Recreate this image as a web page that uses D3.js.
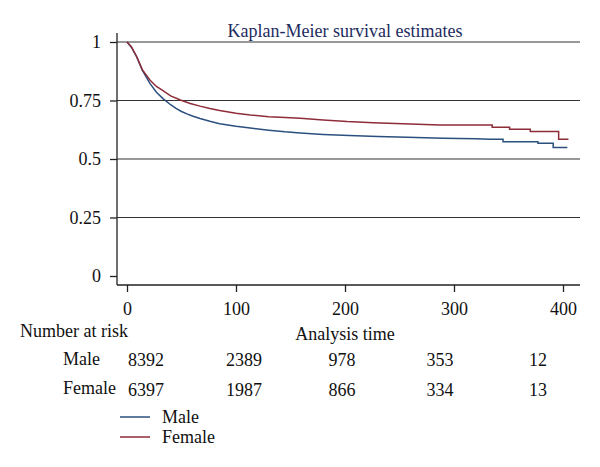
<!DOCTYPE html>
<html><head><meta charset="utf-8">
<script src="https://cdn.jsdelivr.net/npm/d3@7"></script>
<style>body{margin:0;background:#fff}svg{display:block}text{font-family:"Liberation Serif","DejaVu Serif",serif}</style>
</head><body>
<svg id="c" width="600" height="467"></svg>
<script>
const title = "Kaplan-Meier survival estimates";
const xTicks = [0, 100, 200, 300, 400];
const yTicks = [0, 0.25, 0.5, 0.75, 1];
const yTickLabels = ["0", "0.25", "0.5", "0.75", "1"];
const groups = ["Male", "Female"];
const colors = ["#2b4f7e", "#8e2c38"];
const maleTime = [0,4,9,14,21,27,33,40,45,50,55,60,67,76,85,100,113,130,145,159,180,204,230,257,290,320,333,345,345,377,377,391,391,404];
const maleSurv = [1,0.978,0.935,0.88,0.823,0.785,0.758,0.732,0.716,0.703,0.693,0.684,0.673,0.661,0.651,0.64,0.632,0.623,0.616,0.611,0.605,0.60,0.596,0.593,0.589,0.587,0.584,0.584,0.574,0.574,0.567,0.567,0.549,0.549];
const femaleTime = [0,4,9,14,21,27,33,40,49,58,67,76,85,100,113,130,145,159,180,202,226,260,287,335,335,351,351,370,370,396,396,405];
const femaleSurv = [1,0.98,0.937,0.882,0.838,0.81,0.792,0.77,0.752,0.737,0.726,0.716,0.707,0.696,0.688,0.681,0.677,0.674,0.667,0.66,0.655,0.65,0.645,0.645,0.636,0.636,0.627,0.627,0.617,0.617,0.584,0.584];
const riskLabel = "Number at risk";
const xTitle = "Analysis time";
const maleRisk = ["8392","2389","978","353","12"];
const femaleRisk = ["6397","1987","866","334","13"];

(function () {
const svg = d3.select("#c");
const x = d3.scaleLinear().domain([0, 400]).range([127, 563]);
const y = d3.scaleLinear().domain([0, 1]).range([276, 42]);
const pLeft = 117, pRight = 580, pBottom = 285, pTop = 33;
const ink = "#222";
const fs = 18;

svg.append("text").attr("x", 345).attr("y", 37).attr("text-anchor", "middle")
  .attr("font-size", fs).attr("fill", "#1d2c5e").text(title);

svg.append("g").selectAll("line").data(yTicks.filter(d => d > 0)).join("line")
  .attr("x1", pLeft).attr("x2", pRight).attr("y1", d => y(d)).attr("y2", d => y(d))
  .attr("stroke", "#333").attr("stroke-width", 1.2);

const ya = svg.append("g").attr("transform", `translate(${pLeft},0)`)
  .call(d3.axisLeft(y).tickValues(yTicks).tickFormat((d, i) => yTickLabels[i]).tickSize(7).tickPadding(9));
ya.select(".domain").remove();
ya.append("line").attr("x1", 0).attr("x2", 0).attr("y1", pTop).attr("y2", pBottom).attr("stroke", ink).attr("stroke-width", 1.3);
ya.selectAll(".tick line").attr("stroke", ink).attr("stroke-width", 1.3);
ya.selectAll(".tick text").attr("font-size", fs).attr("fill", "#111").attr("font-family", '"Liberation Serif",serif');

const xa = svg.append("g").attr("transform", `translate(0,${pBottom})`)
  .call(d3.axisBottom(x).tickValues(xTicks).tickFormat(d3.format("d")).tickSize(7).tickPadding(10));
xa.select(".domain").remove();
xa.append("line").attr("x1", pLeft).attr("x2", pRight).attr("y1", 0).attr("y2", 0).attr("stroke", ink).attr("stroke-width", 1.3);
xa.selectAll(".tick line").attr("stroke", ink).attr("stroke-width", 1.3);
xa.selectAll(".tick text").attr("font-size", fs).attr("fill", "#111").attr("font-family", '"Liberation Serif",serif');

const line = d3.line().x(d => x(d[0])).y(d => y(d[1]));
const series = [d3.zip(maleTime, maleSurv), d3.zip(femaleTime, femaleSurv)];
series.forEach((s, i) => {
  svg.append("path").datum(s).attr("d", line).attr("fill", "none")
    .attr("stroke", colors[i]).attr("stroke-width", 1.5);
});

const riskX = d3.scaleLinear().domain([0, 4]).range([146, 538]);
svg.append("text").attr("x", 20).attr("y", 337).attr("font-size", fs).attr("fill", "#111").text(riskLabel);
svg.append("text").attr("x", 345).attr("y", 340).attr("text-anchor", "middle").attr("font-size", fs).attr("fill", "#111").text(xTitle);
const rows = [maleRisk, femaleRisk];
const labelY = [365, 394];
const numY = [366, 396];
rows.forEach((r, i) => {
  svg.append("text").attr("x", 63).attr("y", labelY[i]).attr("font-size", fs).attr("fill", "#111").text(groups[i]);
  svg.append("g").selectAll("text").data(r).join("text")
    .attr("x", (d, j) => riskX(j)).attr("y", numY[i]).attr("text-anchor", "middle")
    .attr("font-size", fs).attr("fill", "#111").text(d => d);
});

groups.forEach((g, i) => {
  const ly = 417 + i * 20;
  svg.append("line").attr("x1", 120).attr("x2", 150).attr("y1", ly).attr("y2", ly)
    .attr("stroke", colors[i]).attr("stroke-width", 1.5);
  svg.append("text").attr("x", 162).attr("y", ly + 6).attr("font-size", fs).attr("fill", "#111").text(g);
});
})();
</script>
</body></html>
